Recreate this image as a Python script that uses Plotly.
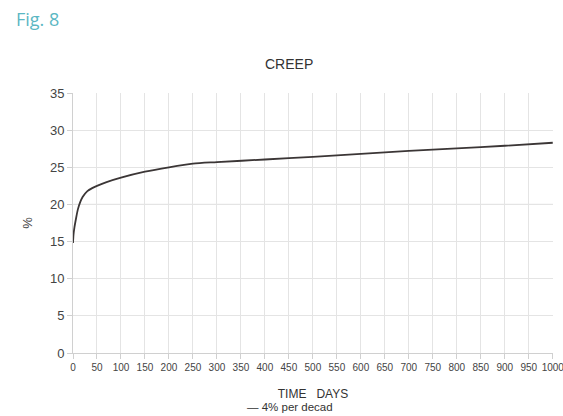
import plotly.graph_objects as go

# Creep curve: time in days vs creep in %
days = [0, 1, 3, 6, 10, 15, 20, 30, 40, 50, 70, 100, 150, 200, 250, 300, 400, 500, 600, 700, 800, 900, 1000]
creep = [14.8, 15.9, 16.9, 18.0, 19.3, 20.3, 21.0, 21.8, 22.2, 22.5, 23.0, 23.6, 24.4, 25.0, 25.5, 25.7, 26.05, 26.4, 26.8, 27.2, 27.55, 27.9, 28.3]

x_ticks = list(range(0, 1001, 50))
y_ticks = list(range(0, 36, 5))

fig = go.Figure()
fig.add_trace(go.Scatter(
    x=days, y=creep, mode="lines", name="4% per decad",
    line=dict(color="#3b3636", width=1.8, shape="spline", smoothing=0.7),
    showlegend=False,
))

# Emphasised reference line at 20 %
fig.add_shape(type="line", xref="paper", x0=0, x1=1, yref="y", y0=20, y1=20,
              line=dict(color="#a8a8a8", width=1), layer="below")

tick_font = dict(family="Liberation Sans, Arial, sans-serif", color="#444444")

fig.update_layout(
    width=563, height=416,
    margin=dict(l=73, r=10, t=93, b=63),
    paper_bgcolor="white", plot_bgcolor="white",
    font=dict(family="Liberation Sans, Arial, sans-serif", color="#333333"),
    xaxis=dict(
        range=[0, 1000.5], tickvals=x_ticks, ticktext=[str(v) for v in x_ticks],
        showgrid=True, gridcolor="#e4e4e4", gridwidth=1,
        zeroline=False, showline=True, linecolor="#d0d0d0",
        ticks="outside", ticklen=5, tickcolor="#d0d0d0",
        tickfont=dict(size=10, **tick_font), ticklabeloverflow="allow", automargin=False,
        title=dict(text="TIME\u00a0\u00a0\u00a0DAYS", font=dict(size=12, color="#333333"), standoff=17),
    ),
    yaxis=dict(
        range=[0, 35], tickvals=y_ticks, automargin=False,
        showgrid=True, gridcolor="#e4e4e4", gridwidth=1,
        zeroline=False, showline=True, linecolor="#d0d0d0",
        ticks="outside", ticklen=5, tickcolor="#d0d0d0",
        tickfont=dict(size=13, **tick_font),
        title=dict(text="%", font=dict(size=13, color="#444444"), standoff=14),
    ),
    annotations=[
        dict(text="Fig. 8", xref="paper", yref="paper", x=-73/480, y=1 + (93 - 19) / 260,
             xanchor="left", yanchor="middle", showarrow=False, xshift=14,
             font=dict(family="Open Sans, sans-serif", size=18, color="#5bb7c3")),
        dict(text="CREEP", xref="paper", yref="paper", x=(289 - 73) / 480, y=1 + (93 - 64) / 260,
             xanchor="center", yanchor="middle", showarrow=False,
             font=dict(size=14, color="#333333")),
        dict(text="\u2014 4% per decad", xref="paper", yref="paper", x=(290 - 73) / 480,
             y=-(407 - 353) / 260, xanchor="center", yanchor="middle", showarrow=False,
             font=dict(size=11.5, color="#333333")),
    ],
)

fig.write_html("out.html")
